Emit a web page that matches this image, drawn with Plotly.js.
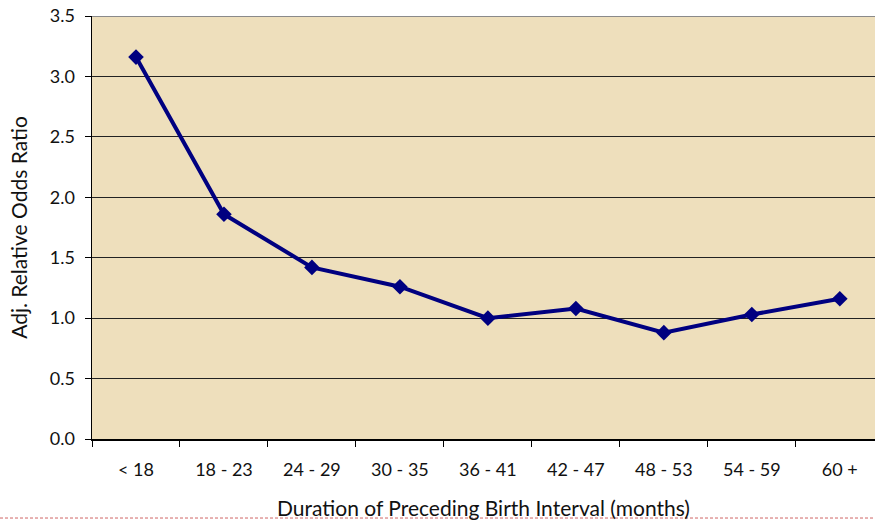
<!DOCTYPE html>
<html>
<head>
<meta charset="utf-8">
<script src="https://cdn.plot.ly/plotly-3.0.1.min.js"></script>
<style>
  body { margin: 0; background: #fff; }
  #plot { width: 875px; height: 522px; }
</style>
</head>
<body>
<div id="plot"></div>
<script>
// birth interval categories and odds ratios
const intervals = ['< 18', '18 - 23', '24 - 29', '30 - 35', '36 - 41', '42 - 47', '48 - 53', '54 - 59', '60 +'];
const oddsRatio = [3.16, 1.86, 1.42, 1.26, 1.00, 1.08, 0.88, 1.03, 1.16];
const yTicks = [0, 0.5, 1, 1.5, 2, 2.5, 3, 3.5];
const yTickText = ['0.0', '0.5', '1.0', '1.5', '2.0', '2.5', '3.0', '3.5'];

const trace = {
    x: intervals,
    y: oddsRatio,
    type: 'scatter',
    mode: 'lines+markers',
    line: { color: '#000080', width: 4 },
    marker: { symbol: 'diamond', size: 12, color: '#000080' },
    hoverinfo: 'x+y'
};

const font = 'Lato, "Open Sans", sans-serif';

const layout = {
    width: 875,
    height: 522,
    margin: { l: 92, r: 0, t: 16, b: 83 },
    paper_bgcolor: '#ffffff',
    plot_bgcolor: '#eedfbc',
    showlegend: false,
    font: { family: font, color: '#111', size: 18 },
    xaxis: {
        type: 'category',
        range: [-0.5, 8.4],
        tickson: 'boundaries',
        ticks: 'outside',
        ticklen: 6,
        tickcolor: '#000',
        showgrid: false,
        showline: true,
        linecolor: '#000',
        linewidth: 1.5,
        zeroline: false,
        ticklabelstandoff: 14,
        tickfont: { family: font, size: 18, color: '#111' },
        title: { text: 'Duration of Preceding Birth Interval (months)', font: { family: font, size: 21, color: '#111' }, standoff: 22 }
    },
    yaxis: {
        range: [0, 3.5],
        tickvals: yTicks,
        ticktext: yTickText,
        ticks: 'outside',
        ticklen: 6,
        tickcolor: '#000',
        showgrid: true,
        gridcolor: '#222',
        gridwidth: 1,
        showline: true,
        linecolor: '#000',
        linewidth: 1.5,
        zeroline: false,
        ticklabelstandoff: 6,
        tickfont: { family: font, size: 18, color: '#111' },
        title: { text: 'Adj. Relative Odds Ratio', font: { family: font, size: 21, color: '#111' }, standoff: 16 }
    },
    shapes: [
        {
            type: 'line', xref: 'paper', yref: 'y',
            x0: 0, x1: 1, y0: 3.5, y1: 3.5,
            line: { color: '#8a8a8a', width: 2 }
        },
        {
            type: 'line', xref: 'paper', yref: 'paper',
            x0: -92 / 783, x1: 1, y0: -0.1868, y1: -0.1868,
            line: { color: '#d06666', width: 1, dash: '3px,2px' }
        }
    ]
};

Plotly.newPlot('plot', [trace], layout, { displayModeBar: false, staticPlot: true });
</script>
</body>
</html>
